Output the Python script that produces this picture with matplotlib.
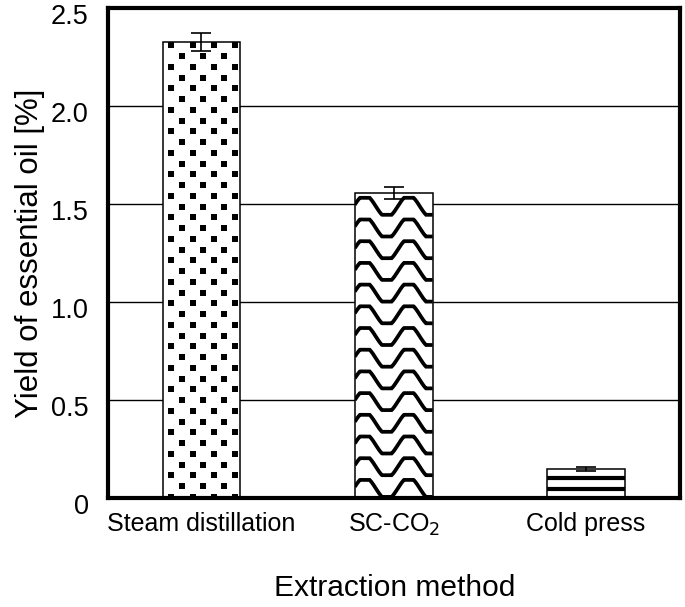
import numpy as np
import matplotlib
matplotlib.use('Agg')
import matplotlib.pyplot as plt
import matplotlib.transforms as mtransforms

plt.rcParams['font.family'] = ['Liberation Sans', 'DejaVu Sans']

metodos = ['Steam distillation', 'SC-CO$_2$', 'Cold press']
rendimento = [2.328, 1.555, 0.148]
erro = [0.045, 0.031, 0.012]
y_ticks = [0, 0.5, 1.0, 1.5, 2.0, 2.5]
y_labels = ['0', '0.5', '1.0', '1.5', '2.0', '2.5']

fig = plt.figure(figsize=(6.85, 6.07), dpi=100)
ax = fig.add_axes([0.158, 0.1796, 0.835, 0.807])
x = np.arange(len(metodos))
ax.set_xlim(-0.485, 2.49)
ax.set_ylim(0, 2.5)

# grade horizontal atras das barras
for yv in y_ticks[1:-1]:
    ax.axhline(yv, color='black', lw=1.0, zorder=1)

barras = ax.bar(x, rendimento, width=0.405, color='white', edgecolor='black',
                linewidth=1.1, zorder=2)

# escala pixel -> dados
fw, fh = fig.get_size_inches() * fig.dpi
pos = ax.get_position()
px_x = (pos.width * fw) / (ax.get_xlim()[1] - ax.get_xlim()[0])
px_y = (pos.height * fh) / (ax.get_ylim()[1] - ax.get_ylim()[0])

# textura 1: pontos quadrados
b = barras[0]
x0, w, h = b.get_x(), b.get_width(), b.get_height()
xs, ys = [], []
linha = 0
yy = h - 3.5 / px_y
while yy > -0.1:
    off = 8.7 if linha % 2 == 0 else 19.2
    xx = x0 + off / px_x
    while xx < x0 + w:
        xs.append(xx)
        ys.append(yy)
        xx += 21.3 / px_x
    yy -= 10.75 / px_y
    linha += 1
sc = ax.scatter(xs, ys, marker='s', s=17, color='black', lw=0, zorder=3)
sc.set_clip_path(b)

# textura 2: zigue-zague
b = barras[1]
x0, w, h = b.get_x(), b.get_width(), b.get_height()
xx = np.linspace(x0, x0 + w, 200)
fase = (xx - x0) * px_x
onda = np.clip(11.0 * np.cos(2 * np.pi * (fase - 10) / 44.0), -8.5, 8.5)
base = h * px_y - 13
while base > -30:
    ln, = ax.plot(xx, (base + onda) / px_y, color='black', lw=2.7,
                  solid_capstyle='butt', solid_joinstyle='miter', zorder=3)
    ln.set_clip_path(b)
    base -= 21.7

# textura 3: listras horizontais
b = barras[2]
x0, w, h = b.get_x(), b.get_width(), b.get_height()
yy = 9.0
while yy < h * px_y:
    ln, = ax.plot([x0, x0 + w], [yy / px_y, yy / px_y], color='black', lw=3.0,
                  solid_capstyle='butt', zorder=3)
    ln.set_clip_path(b)
    yy += 11.0

ax.errorbar(x, rendimento, yerr=erro, fmt='none', ecolor='black', elinewidth=1.2,
            capsize=7.5, capthick=1.2, zorder=4)

for s in ax.spines.values():
    s.set_linewidth(3.0)
    s.set_zorder(5)

ax.set_xticks(x)
ax.set_xticklabels(metodos, fontsize=18)
ax.set_yticks(y_ticks)
ax.set_yticklabels(y_labels, fontsize=19.5)
ax.tick_params(axis='both', length=0)
ax.tick_params(axis='y', pad=14)
ax.tick_params(axis='x', pad=10)
# rotulos do eixo y um pouco abaixo da linha, como no original
desloca = mtransforms.ScaledTranslation(0, -4 / 72, fig.dpi_scale_trans)
for lab in ax.get_yticklabels():
    lab.set_transform(lab.get_transform() + desloca)
ax.set_ylabel('Yield of essential oil [%]', fontsize=22.5, labelpad=4)
ax.set_xlabel('Extraction method', fontsize=21.5, labelpad=26)

plt.savefig('out.png', dpi=100)
